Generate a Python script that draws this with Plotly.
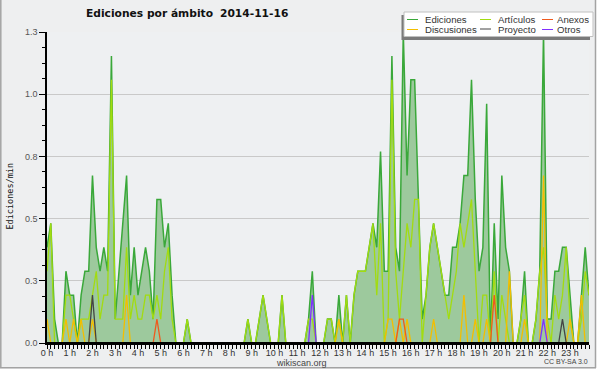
import plotly.graph_objects as go
import pandas as pd

# ---- data (edits per minute, 10-minute bins, 2014-11-16) ----
times = pd.date_range("2014-11-16 00:00", periods=144, freq="10min")

ediciones = [0.4, 0.5, 0.1, 0, 0, 0.3, 0.2, 0.2, 0, 0.2, 0.3, 0.3,
             0.7, 0.4, 0.3, 0.4, 0.3, 1.2, 0.1, 0.3, 0.5, 0.7, 0.2, 0.4,
             0.2, 0.3, 0.4, 0.3, 0.1, 0.6, 0.6, 0.4, 0.5, 0.2, 0, 0,
             0, 0.1, 0, 0, 0, 0, 0, 0, 0, 0, 0, 0,
             0, 0, 0, 0, 0, 0.1, 0, 0, 0.1, 0.2, 0.1, 0,
             0, 0, 0.2, 0, 0, 0, 0, 0, 0, 0.1, 0.3, 0,
             0, 0, 0.1, 0.1, 0, 0.2, 0, 0.2, 0, 0.2, 0.3, 0.3,
             0.3, 0.4, 0.5, 0.4, 0.8, 0.3, 0.3, 1.2, 0.4, 0.3, 1.3, 0.7,
             1.1, 1.1, 0.6, 0.1, 0.2, 0.4, 0.5, 0.4, 0.3, 0.2, 0.2, 0.4,
             0.4, 0.5, 0.7, 0.7, 1.1, 0.6, 0.3, 0.4, 1.0, 0, 0.5, 0.1,
             0.7, 0.4, 0.3, 0, 0, 0.1, 0.3, 0, 0, 0.1, 0.3, 1.3,
             0.1, 0.1, 0.3, 0.3, 0.4, 0.4, 0.2, 0, 0, 0.2, 0.4, 0.2]

articulos = [0.3, 0.5, 0, 0, 0, 0.2, 0.2, 0.1, 0, 0.1, 0.1, 0.1,
             0.2, 0.3, 0.1, 0.2, 0.2, 1.1, 0.1, 0.1, 0.1, 0.4, 0.1, 0.2,
             0.1, 0.1, 0.2, 0.2, 0.1, 0.2, 0.1, 0.3, 0.4, 0.1, 0, 0,
             0, 0.1, 0, 0, 0, 0, 0, 0, 0, 0, 0, 0,
             0, 0, 0, 0, 0, 0.1, 0, 0, 0.1, 0.2, 0.1, 0,
             0, 0, 0.2, 0, 0, 0, 0, 0, 0, 0.1, 0.1, 0,
             0, 0, 0.1, 0.1, 0, 0.1, 0, 0.2, 0, 0.2, 0.3, 0.3,
             0.3, 0.4, 0.5, 0.2, 0.5, 0, 0.1, 1.1, 0.3, 0.1, 0.3, 0.5,
             0.4, 0.6, 0.6, 0, 0.2, 0.4, 0.5, 0.4, 0.3, 0.2, 0.1, 0.2,
             0.3, 0.5, 0.4, 0.5, 0.6, 0.3, 0, 0.2, 0.2, 0, 0.3, 0,
             0.2, 0.1, 0, 0, 0, 0.1, 0.2, 0, 0, 0.1, 0.3, 0.4,
             0.1, 0, 0.2, 0.1, 0.2, 0.4, 0.1, 0, 0, 0.1, 0.3, 0.2]

discusiones = [0.1, 0, 0, 0, 0, 0.1, 0, 0.1, 0, 0.1, 0, 0,
               0.1, 0, 0, 0, 0, 0, 0, 0, 0, 0.2, 0, 0,
               0, 0, 0, 0, 0, 0, 0, 0, 0, 0, 0, 0,
               0, 0, 0, 0, 0, 0, 0, 0, 0, 0, 0, 0,
               0, 0, 0, 0, 0, 0, 0, 0, 0, 0, 0, 0,
               0, 0, 0, 0, 0, 0, 0, 0, 0, 0, 0, 0,
               0, 0, 0, 0, 0, 0.1, 0, 0, 0, 0, 0, 0,
               0, 0, 0, 0, 0, 0, 0.1, 0.1, 0, 0.1, 0, 0.1,
               0, 0, 0, 0, 0, 0, 0.1, 0, 0, 0, 0, 0,
               0, 0, 0.2, 0, 0, 0.1, 0, 0, 0.1, 0, 0, 0,
               0, 0, 0.3, 0, 0, 0, 0.1, 0, 0, 0, 0, 0.7,
               0, 0, 0, 0, 0, 0, 0.1, 0, 0, 0.2, 0, 0]

anexos = [0, 0, 0, 0, 0, 0, 0, 0, 0, 0, 0, 0,
          0, 0, 0, 0, 0, 0, 0, 0, 0, 0, 0, 0,
          0, 0, 0, 0, 0, 0.1, 0, 0, 0, 0, 0, 0,
          0, 0, 0, 0, 0, 0, 0, 0, 0, 0, 0, 0,
          0, 0, 0, 0, 0, 0, 0, 0, 0, 0, 0, 0,
          0, 0, 0, 0, 0, 0, 0, 0, 0, 0, 0, 0,
          0, 0, 0, 0, 0, 0, 0, 0, 0, 0, 0, 0,
          0, 0, 0, 0, 0, 0, 0, 0, 0, 0.1, 0.1, 0,
          0, 0, 0, 0, 0, 0, 0, 0, 0, 0, 0, 0,
          0, 0, 0, 0, 0, 0, 0, 0, 0, 0, 0.2, 0,
          0, 0, 0, 0, 0, 0, 0, 0, 0, 0, 0, 0,
          0, 0, 0, 0, 0, 0, 0, 0, 0, 0, 0, 0]

proyecto = [0, 0, 0, 0, 0, 0, 0, 0, 0, 0, 0, 0,
            0.2, 0, 0, 0, 0, 0, 0, 0, 0, 0, 0, 0,
            0, 0, 0, 0, 0, 0, 0, 0, 0, 0, 0, 0,
            0, 0, 0, 0, 0, 0, 0, 0, 0, 0, 0, 0,
            0, 0, 0, 0, 0, 0, 0, 0, 0, 0, 0, 0,
            0, 0, 0, 0, 0, 0, 0, 0, 0, 0, 0, 0,
            0, 0, 0, 0, 0, 0, 0, 0, 0, 0, 0, 0,
            0, 0, 0, 0, 0, 0, 0, 0, 0, 0, 0, 0,
            0, 0, 0, 0, 0, 0, 0, 0, 0, 0, 0, 0,
            0, 0, 0, 0, 0, 0, 0, 0, 0, 0, 0, 0,
            0, 0, 0, 0, 0, 0, 0, 0, 0, 0, 0, 0,
            0, 0, 0, 0, 0.1, 0, 0, 0, 0, 0, 0, 0]

otros = [0, 0, 0, 0, 0, 0, 0, 0, 0, 0, 0, 0,
         0, 0, 0, 0, 0, 0, 0, 0, 0, 0, 0, 0,
         0, 0, 0, 0, 0, 0, 0, 0, 0, 0, 0, 0,
         0, 0, 0, 0, 0, 0, 0, 0, 0, 0, 0, 0,
         0, 0, 0, 0, 0, 0, 0, 0, 0, 0, 0, 0,
         0, 0, 0, 0, 0, 0, 0, 0, 0, 0, 0.2, 0,
         0, 0, 0, 0, 0, 0, 0, 0, 0, 0, 0, 0,
         0, 0, 0, 0, 0, 0, 0, 0, 0, 0, 0, 0,
         0, 0, 0, 0, 0, 0, 0, 0, 0, 0, 0, 0,
         0, 0, 0, 0, 0, 0, 0, 0, 0, 0, 0, 0,
         0, 0, 0, 0, 0, 0, 0, 0, 0, 0, 0, 0.1,
         0, 0, 0, 0, 0, 0, 0, 0, 0, 0, 0, 0]

y_tickvals = [0, 0.26, 0.52, 0.78, 1.04, 1.3]
y_ticktext = ["0.0", "0.3", "0.5", "0.8", "1.0", "1.3"]

series_names = ["Ediciones", "Artículos", "Discusiones", "Anexos", "Proyecto", "Otros"]
series_colors = ["#3aa83a", "#a2dc10", "#f3be00", "#ef5a1e", "#444444", "#8030ff"]

# ---- geometry helpers (pixel -> paper) ----
W, H = 600, 370
L, R, T, B = 47, 11, 32, 27
PW, PH = W - L - R, H - T - B


def px(x):
    return (x - L) / PW


def py(y):
    return (H - B - y) / PH


fig = go.Figure()

fig.add_trace(go.Scatter(x=times, y=ediciones, mode="lines", fill="tozeroy",
                         fillcolor="#9dc99d", line=dict(color=series_colors[0], width=1.5),
                         name=series_names[0], showlegend=False, hoverinfo="skip"))
for name, col, vals in [(series_names[1], series_colors[1], articulos),
                        (series_names[2], series_colors[2], discusiones),
                        (series_names[3], series_colors[3], anexos),
                        (series_names[4], series_colors[4], proyecto),
                        (series_names[5], series_colors[5], otros)]:
    fig.add_trace(go.Scatter(x=times, y=vals, mode="lines",
                             line=dict(color=col, width=1.3),
                             name=name, showlegend=False, hoverinfo="skip"))

shapes = []
# x axis baseline drawn over the zero-level lines
shapes.append(dict(type="line", xref="paper", yref="paper", x0=0, x1=1, y0=0, y1=0,
                   line=dict(color="black", width=2), layer="above"))
# outer frame
shapes.append(dict(type="rect", xref="paper", yref="paper", x0=px(596), x1=px(601),
                   y0=py(-1), y1=py(371), fillcolor="white", line=dict(width=0), layer="above"))
shapes.append(dict(type="rect", xref="paper", yref="paper", x0=px(-1), x1=px(601),
                   y0=py(368.5), y1=py(371), fillcolor="white", line=dict(width=0), layer="above"))
for (x0, y0, x1, y1) in [(0.8, 0, 0.8, 368), (0, 367.8, 596, 367.8), (595.5, 0, 595.5, 368)]:
    shapes.append(dict(type="line", xref="paper", yref="paper", x0=px(x0), x1=px(x1),
                       y0=py(y0), y1=py(y1), line=dict(color="#a3a3a3", width=1.5), layer="above"))

# legend box
shapes.append(dict(type="rect", xref="paper", yref="paper", x0=px(401.5), x1=px(590),
                   y0=py(40), y1=py(15), fillcolor="#7a7a7a", line=dict(width=0), layer="above"))
shapes.append(dict(type="rect", xref="paper", yref="paper", x0=px(404), x1=px(593),
                   y0=py(36.5), y1=py(12), fillcolor="white",
                   line=dict(color="#c0c0c0", width=1), layer="above"))

legend_items = [("Ediciones", series_colors[0], 407, 423, 19.5),
                ("Discusiones", series_colors[2], 407, 423, 29.5),
                ("Artículos", series_colors[1], 480, 496, 19.5),
                ("Proyecto", series_colors[4], 480, 496, 29),
                ("Anexos", series_colors[3], 542, 555, 19.5),
                ("Otros", series_colors[5], 542, 555, 29.5)]

annotations = []
for label, col, lx, tx, ly in legend_items:
    shapes.append(dict(type="line", xref="paper", yref="paper", x0=px(lx), x1=px(lx + 11),
                       y0=py(ly), y1=py(ly), line=dict(color=col, width=1), layer="above"))
    annotations.append(dict(xref="paper", yref="paper", x=px(tx), y=py(ly), text=label,
                            showarrow=False, xanchor="left", yanchor="middle",
                            font=dict(family="Liberation Sans, Arial", size=9.6, color="#333333")))

annotations.append(dict(xref="paper", yref="paper", x=px(84), y=py(13.5),
                        text="<b>Ediciones por ámbito</b>", showarrow=False,
                        xanchor="left", yanchor="middle",
                        font=dict(family="DejaVu Sans", size=10.7, color="#111111")))
annotations.append(dict(xref="paper", yref="paper", x=px(218), y=py(13.5),
                        text="<b>2014-11-16</b>", showarrow=False,
                        xanchor="left", yanchor="middle",
                        font=dict(family="DejaVu Sans", size=10.7, color="#111111")))
annotations.append(dict(xref="paper", yref="paper", x=px(9.5), y=py(196),
                        text="Ediciones/min", showarrow=False, textangle=-90,
                        xanchor="center", yanchor="middle",
                        font=dict(family="DejaVu Sans Mono", size=8.5, color="#111111")))
annotations.append(dict(xref="paper", yref="paper", x=px(301), y=py(362.5),
                        text="wikiscan.org", showarrow=False,
                        xanchor="center", yanchor="middle",
                        font=dict(family="Liberation Sans, Arial", size=9, color="#444444")))
annotations.append(dict(xref="paper", yref="paper", x=px(590), y=py(361.5),
                        text="CC BY-SA 3.0", showarrow=False,
                        xanchor="right", yanchor="middle",
                        font=dict(family="Liberation Sans, Arial", size=7, color="#444444")))

fig.update_layout(
    width=W, height=H,
    autosize=False,
    margin=dict(l=L, r=R, t=T, b=B, pad=0, autoexpand=False),
    paper_bgcolor="#eeeff0",
    plot_bgcolor="#eef0f2",
    shapes=shapes,
    annotations=annotations,
    showlegend=False,
    xaxis=dict(
        type="date",
        automargin=False,
        range=[times[0], times[-1]],
        tickformat="%-H h",
        dtick=3600000,
        tick0="2014-11-16 00:00",
        ticks="outside", ticklen=4, tickwidth=1, tickcolor="black",
        ticklabelstandoff=-4,
        minor=dict(dtick=600000, ticks="outside", ticklen=4, tickwidth=1, tickcolor="black",
                   showgrid=False),
        showline=True, linecolor="black", linewidth=2,
        showgrid=False, zeroline=False,
        tickfont=dict(family="Liberation Sans, Arial", size=9, color="#333333"),
        fixedrange=True,
    ),
    yaxis=dict(
        automargin=False,
        range=[0, 1.3],
        tickmode="array", tickvals=y_tickvals, ticktext=y_ticktext,
        ticks="outside", ticklen=6, tickwidth=1, tickcolor="black",
        minor=dict(tickmode="linear", tick0=0, dtick=0.065, ticks="outside", ticklen=3,
                   tickwidth=1, tickcolor="black", showgrid=False),
        showline=True, linecolor="black", linewidth=1.5,
        showgrid=True, gridcolor="#c9c9c9", gridwidth=1,
        zeroline=False,
        tickfont=dict(family="Liberation Sans, Arial", size=9, color="#555555"),
        fixedrange=True,
    ),
)

fig.write_html("out.html", config={"displayModeBar": False},
               post_script="document.body.style.margin='0';document.body.style.overflow='hidden';")
